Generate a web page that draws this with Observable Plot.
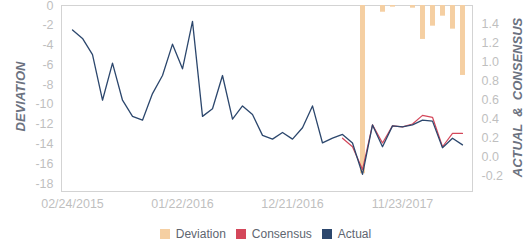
<!DOCTYPE html>
<html><head><meta charset="utf-8">
<script src="https://cdn.jsdelivr.net/npm/d3@7"></script>
<script src="https://cdn.jsdelivr.net/npm/@observablehq/plot@0.6"></script>
<style>
body{margin:0;background:#fff;font-family:"Liberation Sans",Arial,sans-serif;}
#legend{display:flex;justify-content:center;align-items:center;height:32px;font-size:12px;color:#606670;padding-left:0px;}
.item{display:flex;align-items:center;margin:0 5px;}
.sw{width:10px;height:10px;margin-right:6px;}
</style></head><body>
<div id="chart"></div>
<div id="legend"></div>
<script>
const dates = ["02/24/2015","03/26/2015","04/24/2015","05/26/2015","06/24/2015","07/24/2015","08/25/2015","09/24/2015","10/23/2015","11/24/2015",
  "12/22/2015","01/22/2016","02/23/2016","03/24/2016","04/22/2016","05/24/2016","06/23/2016","07/22/2016","08/23/2016","09/22/2016",
  "10/21/2016","11/22/2016","12/21/2016","01/24/2017","02/22/2017","03/24/2017","04/24/2017","05/23/2017","06/22/2017","07/24/2017",
  "08/23/2017","09/22/2017","10/24/2017","11/23/2017","12/21/2017","01/24/2018","02/22/2018","03/22/2018","04/23/2018","05/22/2018"];
const actual = [1.34,1.25,1.08,0.60,0.99,0.60,0.43,0.39,0.67,0.86,
  1.19,0.93,1.43,0.43,0.51,0.86,0.40,0.54,0.45,0.23,
  0.19,0.26,0.19,0.31,0.54,0.15,0.20,0.24,0.15,-0.18,
  0.34,0.11,0.33,0.32,0.34,0.39,0.38,0.10,0.20,0.13];
const consensus = [null,null,null,null,null,null,null,null,null,null,
  null,null,null,null,null,null,null,null,null,null,
  null,null,null,null,null,null,null,0.20,0.11,-0.13,
  0.34,0.15,0.33,0.32,0.35,0.44,0.42,0.11,0.25,0.25];
const deviation = [null,null,null,null,null,null,null,null,null,null,
  null,null,null,null,null,null,null,null,null,null,
  null,null,null,null,null,null,null,null,null,-17.0,
  null,-0.68,-0.17,null,-0.27,-3.43,-2.09,-1.08,-2.39,-7.07];
const leftTicks = [0,-2,-4,-6,-8,-10,-12,-14,-16,-18];
const rightTicks = [-0.2,0,0.2,0.4,0.6,0.8,1.0,1.2,1.4];
const xTickLabels = ["02/24/2015","01/22/2016","12/21/2016","11/23/2017"];
const leftDomain = [-18.8, 0];
const rightDomain = [-0.361, 1.597];
const series = [
  {name:"Deviation", color:"#f5cfa2"},
  {name:"Consensus", color:"#d4475a"},
  {name:"Actual", color:"#2c476d"}
];

const toLeft = d3.scaleLinear().domain(rightDomain).range(leftDomain);
const rows = dates.map((d,i)=>({date:d, actual:actual[i], consensus:consensus[i], deviation:deviation[i]}));
const axisColor = "#bfbfbf";
const titleColor = "#6c7280";

const chart = Plot.plot({
  width: 531, height: 218,
  marginTop: 5, marginBottom: 27, marginLeft: 61, marginRight: 59,
  style: {fontFamily: '"Liberation Sans", Arial, sans-serif', fontSize: "12.5px", background: "#fff"},
  x: {type: "point", domain: dates, padding: 0.5},
  y: {domain: leftDomain},
  marks: [
    Plot.frame({stroke: "#d3d3d3"}),
    Plot.ruleX(rows.filter(d => d.deviation != null), {x: "date", y1: 0, y2: "deviation", stroke: series[0].color, strokeWidth: 5}),
    Plot.line(rows, {x: "date", y: d => d.consensus == null ? NaN : toLeft(d.consensus), stroke: series[1].color, strokeWidth: 1.2}),
    Plot.line(rows, {x: "date", y: d => toLeft(d.actual), stroke: series[2].color, strokeWidth: 1.3}),
    Plot.axisY({anchor: "left", ticks: leftTicks, tickSize: 0, tickPadding: 8, tickFormat: d => String(d), color: axisColor, label: null}),
    Plot.axisY({anchor: "right", ticks: rightTicks.map(v => toLeft(v)), tickSize: 0, tickPadding: 9,
      tickFormat: d => { const v = toLeft.invert(d); return (Math.abs(v) < 1e-9 ? 0 : v).toFixed(1); }, color: axisColor, label: null}),
    Plot.axisX({ticks: xTickLabels, tickSize: 0, tickPadding: 8, color: axisColor, label: null}),
    Plot.text(["DEVIATION"], {frameAnchor: "left", textAnchor: "middle", dx: -41, dy: -2, rotate: -90, text: d => d, fill: titleColor, fontWeight: "bold", fontStyle: "italic", fontSize: 13}),
    Plot.text(["ACTUAL  &  CONSENSUS"], {frameAnchor: "right", textAnchor: "middle", dx: 45, dy: -1, rotate: -90, text: d => d, fill: titleColor, fontWeight: "bold", fontStyle: "italic", fontSize: 13})
  ]
});
document.getElementById("chart").appendChild(chart);

const legend = document.getElementById("legend");
for (const s of series) {
  const it = document.createElement("div"); it.className = "item";
  const sw = document.createElement("div"); sw.className = "sw"; sw.style.background = s.color;
  const tx = document.createElement("span"); tx.textContent = s.name;
  it.appendChild(sw); it.appendChild(tx); legend.appendChild(it);
}
</script>
</body></html>
